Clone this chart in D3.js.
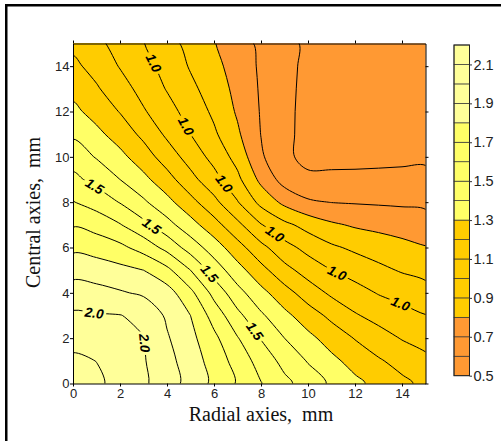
<!DOCTYPE html>
<html>
<head>
<meta charset="utf-8">
<script src="https://cdn.jsdelivr.net/npm/d3@7"></script>
<style>
  html, body { margin: 0; padding: 0; background: #fff; }
  svg { display: block; }
</style>
</head>
<body>
<svg id="chart" width="501" height="441"></svg>
<script>
// ---- data -------------------------------------------------------------
// sample positions (mm)
const gridX = [0, 1, 2, 3, 4, 5, 6, 7, 8, 9, 10, 11, 12, 13, 14, 15];
const gridY = [0, 1, 2, 3, 4, 5, 6, 7, 8, 9, 10, 11, 12, 13, 14, 15];

// field values, one row per central-axis position (row 0 = 0 mm)
const zRows = [
  [2.150, 2.114, 2.075, 2.016, 1.946, 1.865, 1.778, 1.691, 1.604, 1.525, 1.453, 1.385, 1.323, 1.270, 1.222, 1.175],
  [2.114, 2.099, 2.053, 2.008, 1.933, 1.850, 1.760, 1.660, 1.560, 1.469, 1.393, 1.324, 1.265, 1.211, 1.166, 1.123],
  [2.075, 2.053, 2.043, 2.003, 1.910, 1.828, 1.724, 1.606, 1.495, 1.400, 1.326, 1.258, 1.195, 1.142, 1.094, 1.065],
  [2.016, 2.008, 2.003, 1.975, 1.885, 1.800, 1.660, 1.527, 1.416, 1.326, 1.248, 1.176, 1.110, 1.066, 1.034, 1.003],
  [1.946, 1.933, 1.910, 1.885, 1.843, 1.725, 1.569, 1.435, 1.330, 1.239, 1.152, 1.082, 1.036, 0.994, 0.966, 0.937],
  [1.865, 1.850, 1.828, 1.800, 1.725, 1.600, 1.456, 1.338, 1.233, 1.132, 1.059, 1.000, 0.962, 0.923, 0.891, 0.869],
  [1.778, 1.760, 1.724, 1.660, 1.569, 1.456, 1.350, 1.239, 1.128, 1.035, 0.968, 0.916, 0.881, 0.854, 0.830, 0.805],
  [1.691, 1.660, 1.606, 1.527, 1.435, 1.338, 1.239, 1.125, 1.006, 0.924, 0.865, 0.815, 0.788, 0.772, 0.755, 0.739],
  [1.604, 1.560, 1.495, 1.416, 1.330, 1.233, 1.128, 1.006, 0.871, 0.775, 0.712, 0.698, 0.693, 0.689, 0.686, 0.682],
  [1.525, 1.469, 1.400, 1.326, 1.239, 1.132, 1.035, 0.924, 0.775, 0.660, 0.630, 0.629, 0.628, 0.628, 0.628, 0.628],
  [1.453, 1.393, 1.326, 1.248, 1.152, 1.059, 0.968, 0.865, 0.712, 0.630, 0.560, 0.562, 0.566, 0.572, 0.578, 0.583],
  [1.385, 1.324, 1.258, 1.176, 1.082, 1.000, 0.916, 0.815, 0.698, 0.629, 0.562, 0.556, 0.558, 0.563, 0.569, 0.575],
  [1.323, 1.265, 1.195, 1.110, 1.036, 0.962, 0.881, 0.788, 0.693, 0.628, 0.566, 0.558, 0.554, 0.557, 0.562, 0.568],
  [1.270, 1.211, 1.142, 1.066, 0.994, 0.923, 0.854, 0.772, 0.689, 0.628, 0.572, 0.563, 0.557, 0.553, 0.556, 0.562],
  [1.222, 1.166, 1.094, 1.034, 0.966, 0.891, 0.830, 0.755, 0.686, 0.628, 0.578, 0.569, 0.562, 0.556, 0.553, 0.558],
  [1.175, 1.123, 1.065, 1.003, 0.937, 0.869, 0.805, 0.739, 0.682, 0.628, 0.583, 0.575, 0.568, 0.562, 0.558, 0.555]
];

// filled band edges (also the colour bar) and the drawn iso-lines
const bandBreaks = [0.5, 0.6, 0.7, 0.8, 0.9, 1.0, 1.1, 1.2, 1.3, 1.4, 1.5, 1.6, 1.7, 1.8, 1.9, 2.0, 2.1, 2.2];
const lineLevels = [0.6, 0.7, 0.8, 0.9, 1.0, 1.1, 1.2, 1.3, 1.4, 1.5, 1.6, 1.7, 1.8, 1.9, 2.0, 2.1];

// axis ticks
const xTicks = [0, 2, 4, 6, 8, 10, 12, 14];
const yTicks = [0, 2, 4, 6, 8, 10, 12, 14];
const barTicks = [0.5, 0.7, 0.9, 1.1, 1.3, 1.5, 1.7, 1.9, 2.1];

// in-line contour labels: level and approximate spot (mm)
const labelLevel = [1.0, 1.0, 1.0, 1.0, 1.0, 1.0, 1.5, 1.5, 1.5, 1.5, 2.0, 2.0];
const labelX     = [3.45, 4.76, 6.32, 8.52, 11.21, 13.9, 0.94, 3.41, 5.75, 7.67, 0.92, 2.98];
const labelY     = [14.17, 11.36, 8.71, 6.5, 4.88, 3.47, 8.71, 7.01, 4.8, 2.29, 3.18, 1.78];

const xTitle = "Radial axies,  mm";
const yTitle = "Central axies,  mm";

// ---- layout -----------------------------------------------------------
const svg = d3.select("#chart");
const W = 501, H = 441;
const plot = { left: 73, right: 425.5, top: 43.5, bottom: 383.5 };
const sansFont = "'Liberation Sans', Arial, Helvetica, sans-serif";
const narrowFont = "'Liberation Sans Narrow', 'Arial Narrow', 'Liberation Sans', Arial, sans-serif";
const serifFont = "'Liberation Serif', 'Times New Roman', Times, serif";

const x = d3.scaleLinear().domain([0, 15]).range([plot.left, plot.right]);
const y = d3.scaleLinear().domain([0, 15]).range([plot.bottom, plot.top]);
// d3.contours puts sample i at grid coordinate i + 0.5
const gx = d3.scaleLinear().domain([0.5, gridX.length - 0.5]).range([gridX[0], gridX[gridX.length - 1]]);
const gy = d3.scaleLinear().domain([0.5, gridY.length - 0.5]).range([gridY[0], gridY[gridY.length - 1]]);

const bandColor = d3.scaleThreshold()
  .domain([0.8, 1.3, 1.8])
  .range(["#FF9933", "#FFCC00", "#FFFF66", "#FFFF99"]);

// outer figure frame
svg.append("rect")
  .attr("x", 6.25).attr("y", 5.25)
  .attr("width", 700).attr("height", 700)
  .attr("fill", "none").attr("stroke", "#000").attr("stroke-width", 2.5);

const defs = svg.append("defs");
defs.append("clipPath").attr("id", "plotClip")
  .append("rect")
  .attr("x", plot.left).attr("y", plot.top)
  .attr("width", plot.right - plot.left).attr("height", plot.bottom - plot.top);

// ---- contours ---------------------------------------------------------
const values = zRows.flat();
const fillLevels = bandBreaks.slice(0, -1);
const contours = d3.contours()
  .size([gridX.length, gridY.length])
  .thresholds(fillLevels)(values);

const ringLine = d3.line().curve(d3.curveCatmullRomClosed.alpha(0.5));
function contourPath(geom) {
  return geom.coordinates.map(poly =>
    poly.map(ring => ringLine(ring.slice(0, -1).map(([cx, cy]) => [x(gx(cx)), y(gy(cy))]))).join("")
  ).join("");
}

const fillG = svg.append("g").attr("clip-path", "url(#plotClip)");
fillG.append("rect")
  .attr("x", plot.left).attr("y", plot.top)
  .attr("width", plot.right - plot.left).attr("height", plot.bottom - plot.top)
  .attr("fill", bandColor(bandBreaks[0]));
fillG.selectAll("path")
  .data(contours)
  .join("path")
  .attr("d", d => contourPath(d))
  .attr("fill", d => bandColor(d.value))
  .attr("fill-rule", "evenodd")
  .attr("stroke", d => bandColor(d.value))
  .attr("stroke-width", 0.4);

const isLine = c => lineLevels.some(l => Math.abs(l - c.value) < 1e-9);
const lineG = svg.append("g").attr("clip-path", "url(#plotClip)")
  .append("g").attr("mask", "url(#labelGaps)");
const linePaths = lineG.selectAll("path")
  .data(contours.filter(isLine))
  .join("path")
  .attr("d", d => contourPath(d))
  .attr("fill", "none")
  .attr("stroke", "#000")
  .attr("stroke-width", 1);

// ---- contour labels, placed on their iso-line -------------------------
function snap(node, px, py) {
  const L = node.getTotalLength();
  let best = 0, bestD = Infinity;
  for (let s = 0; s <= L; s += 1.5) {
    const p = node.getPointAtLength(s);
    const d = (p.x - px) ** 2 + (p.y - py) ** 2;
    if (d < bestD) { bestD = d; best = s; }
  }
  const p = node.getPointAtLength(best);
  const a = node.getPointAtLength(Math.max(0, best - 6));
  const b = node.getPointAtLength(Math.min(L, best + 6));
  let ang = Math.atan2(b.y - a.y, b.x - a.x) * 180 / Math.PI;
  if (ang > 90) ang -= 180;
  if (ang <= -90) ang += 180;
  return { x: p.x, y: p.y, ang };
}

const mask = defs.append("mask").attr("id", "labelGaps")
  .attr("maskUnits", "userSpaceOnUse")
  .attr("x", 0).attr("y", 0).attr("width", W).attr("height", H);
mask.append("rect").attr("x", 0).attr("y", 0).attr("width", W).attr("height", H).attr("fill", "#fff");

const labelG = svg.append("g");
const fmt1 = d3.format(".1f");
labelLevel.forEach((lv, i) => {
  const node = linePaths.filter(d => Math.abs(d.value - lv) < 1e-9).node();
  if (!node) return;
  const s = snap(node, x(labelX[i]), y(labelY[i]));
  const t = labelG.append("text")
    .attr("transform", `translate(${s.x},${s.y}) rotate(${s.ang})`)
    .attr("text-anchor", "middle")
    .attr("dy", "0.36em")
    .attr("font-family", sansFont)
    .attr("font-size", 13.5)
    .attr("font-weight", "bold")
    .attr("font-style", "italic")
    .attr("fill", "#000")
    .text(fmt1(lv));
  const w = t.node().getComputedTextLength() + 5;
  mask.append("rect")
    .attr("transform", `translate(${s.x},${s.y}) rotate(${s.ang})`)
    .attr("x", -w / 2).attr("y", -6)
    .attr("width", w).attr("height", 12)
    .attr("fill", "#000");
});

// ---- axes -------------------------------------------------------------
function styleAxis(g) {
  g.selectAll("path.domain").attr("stroke", "#000").attr("stroke-width", 1);
  g.selectAll(".tick line").attr("stroke", "#000");
  g.selectAll(".tick text").attr("font-family", sansFont).attr("font-size", 13).attr("fill", "#222");
}
svg.append("g").attr("transform", `translate(0,${plot.bottom})`)
  .call(d3.axisBottom(x).tickValues(xTicks).tickSize(3).tickSizeOuter(0).tickPadding(2.5))
  .call(styleAxis);
svg.append("g").attr("transform", `translate(0,${plot.top})`)
  .call(d3.axisTop(x).tickValues(xTicks).tickSize(3).tickSizeOuter(0).tickFormat(() => ""))
  .call(styleAxis);
svg.append("g").attr("transform", `translate(${plot.left},0)`)
  .call(d3.axisLeft(y).tickValues(yTicks).tickSize(3).tickSizeOuter(0).tickPadding(0.5))
  .call(styleAxis);
svg.append("g").attr("transform", `translate(${plot.right},0)`)
  .call(d3.axisRight(y).tickValues(yTicks).tickSize(3).tickSizeOuter(0).tickFormat(() => ""))
  .call(styleAxis);

// axis titles
svg.append("text")
  .attr("x", 261).attr("y", 421)
  .attr("text-anchor", "middle")
  .attr("font-family", serifFont).attr("font-size", 20)
  .attr("fill", "#111")
  .style("white-space", "pre")
  .text(xTitle);
svg.append("text")
  .attr("transform", "translate(40,212.5) rotate(-90)")
  .attr("text-anchor", "middle")
  .attr("font-family", serifFont).attr("font-size", 20)
  .attr("fill", "#111")
  .style("white-space", "pre")
  .text(yTitle);

// ---- colour bar -------------------------------------------------------
const bar = { left: 454, width: 15.5 };
const cy = d3.scaleLinear()
  .domain([bandBreaks[0], bandBreaks[bandBreaks.length - 1]])
  .range([375.7, 45]);
const barG = svg.append("g");
barG.selectAll("rect.band")
  .data(d3.pairs(bandBreaks))
  .join("rect")
  .attr("class", "band")
  .attr("x", bar.left).attr("width", bar.width)
  .attr("y", d => cy(d[1])).attr("height", d => cy(d[0]) - cy(d[1]))
  .attr("fill", d => bandColor(d[0]))
  .attr("stroke", "#333").attr("stroke-width", 0.7);
barG.append("rect")
  .attr("x", bar.left).attr("width", bar.width)
  .attr("y", cy(bandBreaks[bandBreaks.length - 1]))
  .attr("height", cy(bandBreaks[0]) - cy(bandBreaks[bandBreaks.length - 1]))
  .attr("fill", "none").attr("stroke", "#222").attr("stroke-width", 1);
barG.append("g")
  .attr("transform", `translate(${bar.left + bar.width},0)`)
  .call(d3.axisRight(cy).tickValues(barTicks).tickSize(2.5).tickSizeOuter(0).tickPadding(1.5).tickFormat(fmt1))
  .call(g => g.select("path.domain").remove())
  .call(g => g.selectAll(".tick line").attr("stroke", "#333"))
  .call(g => g.selectAll(".tick text").attr("font-family", narrowFont).attr("font-size", 14.5).attr("fill", "#222"));
</script>
</body>
</html>
